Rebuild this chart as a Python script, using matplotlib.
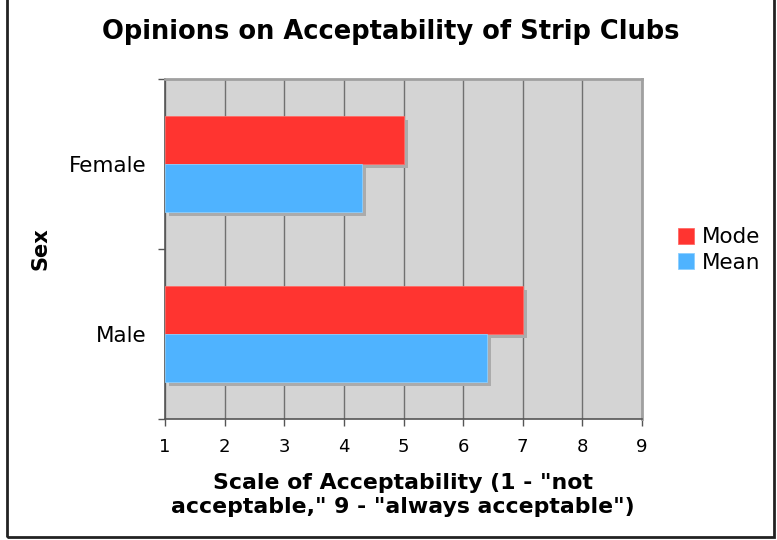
import matplotlib
matplotlib.use("Agg")
import matplotlib.pyplot as plt
import matplotlib.patheffects as pe
from matplotlib.patches import Rectangle
import numpy as np

categories = ["Female", "Male"]
mode_values = [5.0, 7.0]
mean_values = [4.3, 6.4]
series_names = ["Mode", "Mean"]
x_ticks = [1, 2, 3, 4, 5, 6, 7, 8, 9]

RED = "#FF3430"
BLUE = "#4FB3FF"
BG = "#D4D4D4"
SHADOW = "#ABABAB"

plt.rcParams['font.family'] = ['DejaVu Sans']

W, H = 777, 540
fig = plt.figure(figsize=(W / 100, H / 100), dpi=100)
ax = fig.add_axes([165 / W, (H - 419) / H, (642 - 165) / W, (419 - 79) / H])
ax.set_facecolor(BG)

ypos = np.array([1.0, 0.0])  # Female on top
bh = 0.282
shadow = [pe.SimplePatchShadow(offset=(3, -3), shadow_rgbFace=SHADOW, alpha=1.0), pe.Normal()]

left = x_ticks[0]
b1 = ax.barh(ypos + bh / 2, np.array(mode_values) - left, left=left, height=bh,
             color=RED, edgecolor="#ff6a66", linewidth=0.6, label=series_names[0], zorder=3)
b2 = ax.barh(ypos - bh / 2, np.array(mean_values) - left, left=left, height=bh,
             color=BLUE, edgecolor="#8ccfff", linewidth=0.6, label=series_names[1], zorder=3)
for bar in list(b1) + list(b2):
    bar.set_path_effects(shadow)

ax.set_xlim(x_ticks[0], x_ticks[-1])
ax.set_ylim(-0.5, 1.5)
ax.set_xticks(x_ticks)
ax.set_xticklabels([str(t) for t in x_ticks], fontsize=13)
ax.set_yticks(ypos)
ax.set_yticklabels(categories, fontsize=15.5)
ax.set_yticks([-0.5, 0.5, 1.5], minor=True)
ax.tick_params(axis='y', which='major', length=0, pad=13)
ax.tick_params(axis='y', which='minor', length=5, width=1, color="#555555")
ax.tick_params(axis='x', which='major', length=5, width=1, color="#555555", pad=9)

ax.grid(axis='x', color="#707070", linewidth=1, zorder=1)
ax.set_axisbelow(True)
for s in ["top", "right"]:
    ax.spines[s].set_color("#A0A0A0")
    ax.spines[s].set_linewidth(2)
for s in ["left", "bottom"]:
    ax.spines[s].set_color("#555555")
    ax.spines[s].set_linewidth(1.2)

fig.text(391 / W, 1 - 32 / H, "Opinions on Acceptability of Strip Clubs",
         ha="center", va="center", fontsize=18.5, fontweight="bold")
fig.text(403 / W, 1 - 495 / H, "Scale of Acceptability (1 - \"not\nacceptable,\" 9 - \"always acceptable\")",
         ha="center", va="center", fontsize=15.8, fontweight="bold", linespacing=1.3)
fig.text(40 / W, 1 - 249 / H, "Sex", ha="center", va="center", rotation=90,
         fontsize=15, fontweight="bold")

leg = fig.legend(handles=[b1, b2], labels=series_names, loc="center left",
                 bbox_to_anchor=(663 / W, 1 - 250 / H), frameon=False, fontsize=15.5,
                 handlelength=0.75, handleheight=0.75, handletextpad=0.35, labelspacing=0.25,
                 borderpad=0.2)
for h in leg.legend_handles:
    h.set_path_effects([])

fig.patches.append(Rectangle((7 / W, 3 / H), (774 - 7) / W, 1.2, transform=fig.transFigure,
                             fill=False, edgecolor="#222222", linewidth=2))

fig.savefig("out.png", dpi=100)
